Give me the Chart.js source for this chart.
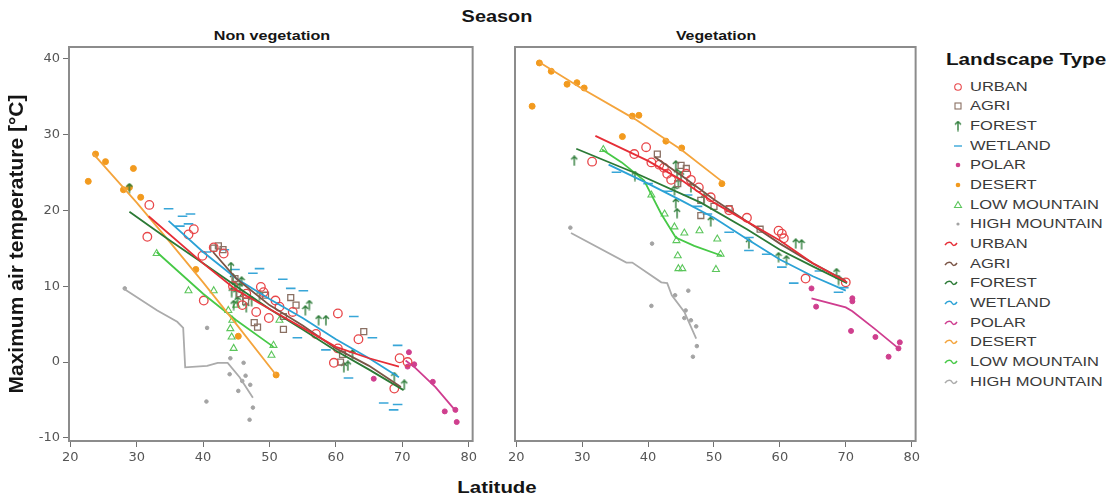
<!DOCTYPE html>
<html><head><meta charset="utf-8">
<script src="https://cdn.jsdelivr.net/npm/chart.js@4.4.1/dist/chart.umd.min.js"></script>
<style>
html,body{margin:0;padding:0;background:#fff;}
body{width:1113px;height:500px;position:relative;overflow:hidden;font-family:"Liberation Sans",Arial,sans-serif;}
canvas.ch{position:absolute;top:0;}
.lbl{position:absolute;white-space:nowrap;font-weight:bold;color:#151515;}
.li{position:absolute;left:940px;height:16px;line-height:16px;font-size:13px;color:#3a3a3a;white-space:nowrap;}
.li canvas{position:absolute;left:0;top:0;}
.li span{position:absolute;left:30px;top:0;transform:scaleX(1.27);transform-origin:left center;}
</style></head>
<body>
<div class="lbl" style="left:497px;top:17px;font-size:17px;transform:translate(-50%,-50%) scaleX(1.17);">Season</div>
<div class="lbl" style="left:272px;top:35px;font-size:13px;transform:translate(-50%,-50%) scaleX(1.24);">Non vegetation</div>
<div class="lbl" style="left:716px;top:35px;font-size:13px;transform:translate(-50%,-50%) scaleX(1.22);">Vegetation</div>
<div class="lbl" style="left:497px;top:488px;font-size:17px;transform:translate(-50%,-50%) scaleX(1.2);">Latitude</div>
<div class="lbl" style="left:946px;top:60px;font-size:16px;transform:translateY(-50%) scaleX(1.29);transform-origin:left center;">Landscape Type</div>
<canvas id="c1" class="ch" width="480" height="500" style="left:0px"></canvas>
<canvas id="c2" class="ch" width="443" height="500" style="left:480px"></canvas>
<div id="legend"></div>
<script>
// ---------- tick labels ----------
const xTicks = [20, 30, 40, 50, 60, 70, 80];
const yTicks = [-10, 0, 10, 20, 30, 40];
const landscapeTypes = ['URBAN','AGRI','FOREST','WETLAND','POLAR','DESERT','LOW MOUNTAIN','HIGH MOUNTAIN'];

// ---------- Non vegetation: observations ----------
const nvUrbanLat  = [31.9,31.6,37.8,38.6,39.9,40.1,41.6,43.1,44.5,45.9,46.5,48.0,48.7,49.1,49.9,50.9,51.5,53.5,57.0,60.3,60.3,59.7,63.4,68.8,69.6,70.8];
const nvUrbanTemp = [20.7,16.5,16.8,17.5,14.0,8.1,15.1,14.3,10.0,7.5,9.0,6.6,9.9,9.2,5.8,8.1,7.3,6.6,3.7,6.4,1.8,-0.1,3.0,-3.5,0.5,0.0];
const nvAgriLat   = [41.6,42.3,43.0,44.8,45.5,46.4,48.2,47.7,49.4,52.1,52.1,53.2,54.0,60.7,64.2,61.0];
const nvAgriTemp  = [15.0,15.3,14.8,11.0,9.0,8.0,4.6,5.2,8.8,6.0,4.3,8.5,7.5,0.0,4.0,1.0];
const nvForestLat = [28.9,44.2,44.5,44.3,44.8,45.0,45.2,44.6,45.5,45.8,46.0,46.5,47.3,48.5,55.4,56.0,57.4,58.5,61.2,61.8,62.5,68.8,70.3];
const nvForestTemp= [22.9,12.5,11.0,9.2,10.0,9.0,8.0,7.5,9.8,10.6,8.5,7.2,8.0,8.8,6.8,7.5,5.5,5.5,-0.7,-0.5,1.0,-2.0,-3.0];
const nvWetlandLat = [34.8,36.9,38.1,37.8,36.5,40.5,43.2,44.8,47.5,48.5,52.0,53.2,55.1,54.2,58.5,62.7,61.9,65.5,69.3,67.2,68.7,69.3];
const nvWetlandTemp= [20.2,19.2,19.5,18.2,17.9,14.5,14.8,12.2,11.7,12.3,10.9,9.7,9.4,3.2,1.6,6.0,-2.1,3.2,2.2,-5.4,-6.3,-5.6];
const nvPolarLat  = [65.7,71.0,70.8,71.8,74.6,76.4,78.0,78.2];
const nvPolarTemp = [-2.2,1.3,-0.6,-0.3,-2.6,-6.5,-6.3,-7.9];
const nvDesertLat = [22.7,23.8,25.3,28.0,28.9,29.5,30.6,38.9,45.3,51.0];
const nvDesertTemp= [23.8,27.4,26.4,22.7,23.0,25.5,21.7,12.2,3.4,-1.7];
const nvLowMtnLat = [33.0,37.8,41.6,43.8,44.1,44.3,44.6,44.4,45.0,50.3,50.6,51.5];
const nvLowMtnTemp= [14.3,9.4,9.4,6.8,4.4,3.3,1.8,5.5,7.5,0.9,2.2,5.5];
const nvHighMtnLat = [28.2,40.6,40.5,44.1,44.0,46.1,46.4,45.9,47.1,45.3,47.5,47.0];
const nvHighMtnTemp= [9.7,4.5,-5.2,0.5,-1.6,-0.1,-1.8,-2.5,-3.0,-3.8,-6.0,-7.6];

// ---------- Non vegetation: fit lines ----------
const nvUrbanFitLat  = [31.8,40,45,50,55,60,65,69.5];
const nvUrbanFitTemp = [19.2,13,9.5,7,4.5,2,0.5,-0.6];
const nvAgriFitLat   = [41.5,45,50,55,60,65,69.8];
const nvAgriFitTemp  = [14.5,11,7.5,4.8,1.8,-0.5,-3.3];
const nvForestFitLat = [28.9,35,40,45,50,55,60,65,70.2];
const nvForestFitTemp= [19.8,16,13,10,7,4.3,1.5,-1,-3.7];
const nvWetlandFitLat = [34.8,40,45,50,55,60,65,69.5];
const nvWetlandFitTemp= [18.6,14.5,11,8.3,5.8,3,0.5,-2];
const nvPolarFitLat  = [70.5,72,75,78.2];
const nvPolarFitTemp = [0.2,-0.8,-3.3,-6.6];
const nvDesertFitLat = [23.4,30,35,40,45,51];
const nvDesertFitTemp= [27.5,21,15.8,10.5,5,-1.7];
const nvLowMtnFitLat = [33,40,45,50.6];
const nvLowMtnFitTemp= [14.5,9,5.5,2];
const nvHighMtnFitLat = [28,33.1,36.1,37,37.3,40.6,42.2,43.7,45.5,47.5];
const nvHighMtnFitTemp= [9.7,6.8,5.3,4.5,-0.7,-0.5,-0.1,-0.1,-2,-4.7];

// ---------- Vegetation: observations ----------
const vUrbanLat  = [31.5,37.9,39.7,40.5,41.7,42.4,42.9,43.5,45.8,46.5,47.7,49.5,52.3,55.0,59.8,60.3,60.6,63.9,70.0];
const vUrbanTemp = [26.4,27.4,28.3,26.3,26.0,25.6,24.8,24.0,24.8,24.0,23.0,21.7,20.0,19.0,17.3,16.9,16.3,11.0,10.5];
const vAgriLat   = [41.4,45.0,45.8,48.0,48.0,52.3,44.5,50.0,57.0];
const vAgriTemp  = [27.4,25.9,25.5,21.3,19.3,20.2,23.5,20.5,17.5];
const vForestLat = [28.8,38.0,44.2,44.4,44.0,44.2,44.4,44.6,45.0,46.5,48.5,49.5,55.3,59.8,61.0,62.4,63.3,68.6,68.9];
const vForestTemp= [26.5,24.5,25.9,24.8,22.6,20.9,19.6,23.5,24.5,23.0,21.5,18.5,15.6,13.8,13.4,15.6,15.5,11.7,10.8];
const vWetlandLat = [35.2,40.0,43.0,46.0,47.5,49.0,52.3,55.3,55.3,58.0,60.3,62.1,66.0,68.9,69.7];
const vWetlandTemp= [25.0,23.5,22.5,22.0,20.5,19.5,17.1,16.4,14.7,14.2,12.5,10.4,12.0,9.2,9.8];
const vPolarLat  = [64.8,65.5,71.0,71.0,70.8,74.5,76.5,78.2,78.0];
const vPolarTemp = [9.7,7.3,8.4,8.0,4.1,3.3,0.7,2.6,1.8];
const vDesertLat = [22.4,23.5,25.3,27.7,29.2,30.3,36.1,37.6,38.6,42.7,45.1,51.2];
const vDesertTemp= [33.7,39.4,38.3,36.6,36.8,36.1,29.7,32.4,32.5,29.1,28.2,23.5];
const vLowMtnLat = [33.2,40.5,42.5,44.0,44.3,44.5,44.6,45.2,45.5,47.8,50.5,51.0,50.3];
const vLowMtnTemp= [28.0,22.0,19.5,17.8,16.0,14.0,12.3,12.3,17.0,17.3,16.2,14.2,12.2];
const vHighMtnLat = [28.2,40.6,40.5,46.1,44.1,45.7,45.5,46.5,47.3,47.4,46.8];
const vHighMtnTemp= [17.7,15.6,7.4,9.4,8.8,6.8,5.8,5.5,4.7,2.1,0.7];

// ---------- Vegetation: fit lines ----------
const vUrbanFitLat  = [32,40,45,50,55,60,65,70.2];
const vUrbanFitTemp = [29.8,26.5,24,21,18.5,16,13,10.5];
const vAgriFitLat   = [41,45,50,55,60,65,70];
const vAgriFitTemp  = [27,24.6,21.4,18.5,15.6,13,10.7];
const vForestFitLat = [29.1,38.3,48,55,60,65,70.2];
const vForestFitTemp= [28.1,24.8,21,17.5,14.8,12.6,10.4];
const vWetlandFitLat = [34,40,45,50,55,60,65,70];
const vWetlandFitTemp= [26,23.5,21.3,19,16.2,13.5,11.3,9.4];
const vPolarFitLat  = [64.8,70,71,74.5,78];
const vPolarFitTemp = [8.4,7.2,6.7,4.3,1.8];
const vDesertFitLat = [23.5,30,38,45,51.2];
const vDesertFitTemp= [39.5,36,32,28,23.8];
const vLowMtnFitLat = [33,36,39.4,42,44.2,47,51.2];
const vLowMtnFitTemp= [28,26.3,23.9,19.5,16.4,15.3,14];
const vHighMtnFitLat = [28.3,36.7,37.6,42,42.9,43.6,45.5,47.3];
const vHighMtnFitTemp= [17,13.1,13.1,10.5,10.4,8.8,6.6,3.1];

// ---------- styles ----------
const pointColors = ['#e8474a','#8a7063','#2f7d3a','#38a6d8','#cf3f8e','#f29a1e','#5cc65c','#a3a3a3'];
const lineColors  = ['#e62e37','#7a5546','#2c7a36','#2ba2d6','#cf3d8f','#f4a43c','#47c947','#ababab'];

function arrowMarker(color, w, h){
  const c = document.createElement('canvas'); c.width = w; c.height = h;
  const g = c.getContext('2d'); g.strokeStyle = color; g.lineWidth = 1.4;
  g.beginPath(); g.moveTo(w/2, h-0.5); g.lineTo(w/2, 1.5);
  g.moveTo(1, 4); g.lineTo(w/2, 1); g.lineTo(w-1, 4); g.stroke();
  return c;
}
const forestMarker = arrowMarker(pointColors[2], 8, 11);
const pointStyles = ['circle','rect',forestMarker,'line','circle','circle','triangle','circle'];
const pointRadii  = [4.3, 4.2, 5, 4.8, 2.5, 3, 4, 1.8];
const pointFill   = ['rgba(0,0,0,0)','rgba(0,0,0,0)',pointColors[2],pointColors[3],pointColors[4],pointColors[5],'rgba(0,0,0,0)',pointColors[7]];
const pointBorder = [1.3, 1.3, 1.3, 1.6, 1, 1, 1.1, 1];

function pts(lat, t){ return lat.map((x, i) => ({x: x, y: t[i]})); }

const nvPoints = [[nvUrbanLat,nvUrbanTemp],[nvAgriLat,nvAgriTemp],[nvForestLat,nvForestTemp],[nvWetlandLat,nvWetlandTemp],[nvPolarLat,nvPolarTemp],[nvDesertLat,nvDesertTemp],[nvLowMtnLat,nvLowMtnTemp],[nvHighMtnLat,nvHighMtnTemp]];
const nvFits = [[nvUrbanFitLat,nvUrbanFitTemp],[nvAgriFitLat,nvAgriFitTemp],[nvForestFitLat,nvForestFitTemp],[nvWetlandFitLat,nvWetlandFitTemp],[nvPolarFitLat,nvPolarFitTemp],[nvDesertFitLat,nvDesertFitTemp],[nvLowMtnFitLat,nvLowMtnFitTemp],[nvHighMtnFitLat,nvHighMtnFitTemp]];
const vPoints = [[vUrbanLat,vUrbanTemp],[vAgriLat,vAgriTemp],[vForestLat,vForestTemp],[vWetlandLat,vWetlandTemp],[vPolarLat,vPolarTemp],[vDesertLat,vDesertTemp],[vLowMtnLat,vLowMtnTemp],[vHighMtnLat,vHighMtnTemp]];
const vFits = [[vUrbanFitLat,vUrbanFitTemp],[vAgriFitLat,vAgriFitTemp],[vForestFitLat,vForestFitTemp],[vWetlandFitLat,vWetlandFitTemp],[vPolarFitLat,vPolarFitTemp],[vDesertFitLat,vDesertFitTemp],[vLowMtnFitLat,vLowMtnFitTemp],[vHighMtnFitLat,vHighMtnFitTemp]];

function buildDatasets(points, fits){
  const ds = [];
  landscapeTypes.forEach((name, i) => {
    ds.push({label: name, data: pts(points[i][0], points[i][1]), showLine: false,
      pointStyle: pointStyles[i], pointRadius: pointRadii[i], pointHoverRadius: pointRadii[i],
      borderColor: pointColors[i], backgroundColor: pointFill[i], pointBorderWidth: pointBorder[i], order: 2});
  });
  landscapeTypes.forEach((name, i) => {
    ds.push({label: name, data: pts(fits[i][0], fits[i][1]), showLine: true, pointRadius: 0,
      borderColor: lineColors[i], borderWidth: 1.8, fill: false, tension: 0, order: 1});
  });
  return ds;
}

const framePlugin = {id: 'frame', afterDatasetsDraw(chart){
  const a = chart.chartArea, c = chart.ctx; c.save();
  c.strokeStyle = '#8c8c8c'; c.lineWidth = 2;
  c.strokeRect(a.left, a.top, a.right - a.left, a.bottom - a.top); c.restore();
}};

function xScale(){
  return {type: 'linear', min: 19.8, max: 80.6,
    afterBuildTicks: s => { s.ticks = xTicks.map(v => ({value: v})); },
    afterFit: s => { s.height = 59; },
    grid: {drawOnChartArea: false, drawTicks: true, tickLength: 6, color: '#707070', lineWidth: 1},
    border: {display: false},
    ticks: {color: '#555', font: {size: 13, family: 'DejaVu Sans'}, padding: 3, maxRotation: 0, autoSkip: false}};
}

function makeChart(id, points, fits, left){
  const y = left ? {type: 'linear', min: -10.4, max: 41.5,
      afterBuildTicks: s => { s.ticks = yTicks.map(v => ({value: v})); },
      afterFit: s => { s.width = 69; },
      grid: {drawOnChartArea: false, drawTicks: true, tickLength: 6, color: '#707070', lineWidth: 1},
      border: {display: false},
      ticks: {color: '#555', font: {size: 13, family: 'DejaVu Sans'}, padding: 3, autoSkip: false},
      title: {display: true, text: 'Maximum air temperature [°C]', color: '#151515',
        font: {size: 21, weight: 'bold', family: '"Liberation Sans", Arial, sans-serif'}, padding: {top: 5, bottom: 0}}}
    : {type: 'linear', min: -10.4, max: 41.5, display: false};
  return new Chart(document.getElementById(id), {
    type: 'scatter',
    data: {datasets: buildDatasets(points, fits)},
    options: {responsive: false, animation: false, devicePixelRatio: 1,
      layout: {padding: left ? {top: 47, right: 7, left: 0, bottom: 0} : {top: 47, right: 7, left: 35, bottom: 0}},
      plugins: {legend: {display: false}, tooltip: {enabled: false}},
      scales: {x: xScale(), y: y}},
    plugins: [framePlugin]
  });
}

makeChart('c1', nvPoints, nvFits, true);
makeChart('c2', vPoints, vFits, false);

// ---------- legend ----------
const legendEl = document.getElementById('legend');
const legTop = 86.7, legStep = 19.67;
function drawPointSym(g, i, cx, cy){
  g.save(); g.strokeStyle = pointColors[i]; g.fillStyle = pointColors[i]; g.lineWidth = 1.1;
  if (i === 0){ g.beginPath(); g.arc(cx, cy, 3.3, 0, 7); g.stroke(); }
  else if (i === 1){ g.strokeRect(cx - 3, cy - 3, 6, 6); }
  else if (i === 2){ g.drawImage(forestMarker, cx - 4, cy - 5.5); }
  else if (i === 3){ g.lineWidth = 1.4; g.beginPath(); g.moveTo(cx - 4, cy); g.lineTo(cx + 4, cy); g.stroke(); }
  else if (i === 6){ g.beginPath(); g.moveTo(cx, cy - 3.5); g.lineTo(cx + 3.5, cy + 2.5); g.lineTo(cx - 3.5, cy + 2.5); g.closePath(); g.stroke(); }
  else { g.beginPath(); g.arc(cx, cy, i === 7 ? 1.6 : 2.3, 0, 7); g.fill(); }
  g.restore();
}
function drawLineSym(g, i, cy){
  g.save(); g.strokeStyle = lineColors[i]; g.lineWidth = 1.5; g.beginPath();
  g.moveTo(5, cy + 1); g.bezierCurveTo(8, cy - 3, 11, cy - 2, 12, cy); g.bezierCurveTo(13, cy + 2, 15, cy + 2, 17, cy - 1);
  g.stroke(); g.restore();
}
for (let k = 0; k < 16; k++){
  const i = k % 8;
  const d = document.createElement('div'); d.className = 'li';
  d.style.top = (legTop + k * legStep - 8) + 'px';
  const cv = document.createElement('canvas'); cv.width = 28; cv.height = 16;
  const g = cv.getContext('2d');
  if (k < 8) drawPointSym(g, i, 18, 8); else drawLineSym(g, i, 8);
  const sp = document.createElement('span'); sp.textContent = landscapeTypes[i];
  d.appendChild(cv); d.appendChild(sp); legendEl.appendChild(d);
}
</script>
</body></html>
